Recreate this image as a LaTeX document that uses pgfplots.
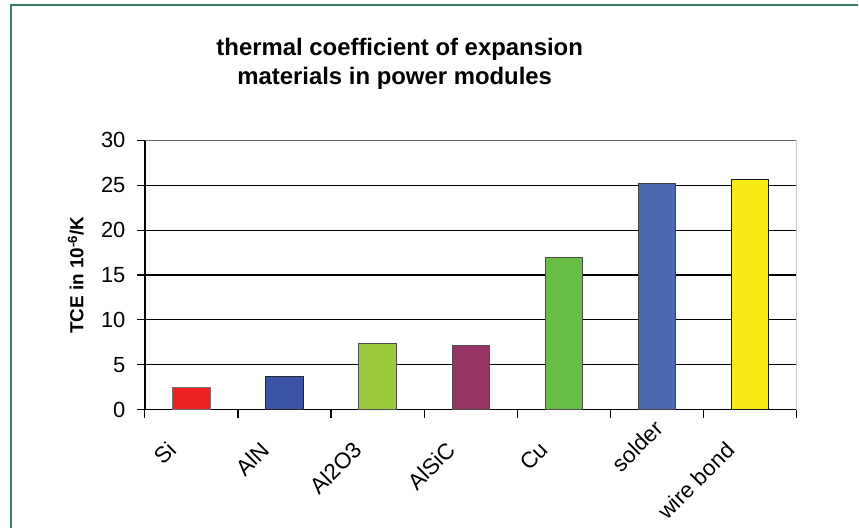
\documentclass[border=0pt]{standalone}
\usepackage{fontspec}
\setmainfont{Liberation Sans}
\usepackage{pgfplots}
\pgfplotsset{compat=1.18}

\definecolor{framegreen}{RGB}{56,128,98}
\definecolor{cSi}{RGB}{237,32,36}
\definecolor{cAlN}{RGB}{58,83,164}
\definecolor{cAlO}{RGB}{153,202,60}
\definecolor{cAlSiC}{RGB}{153,52,102}
\definecolor{cCu}{RGB}{106,189,69}
\definecolor{cSolder}{RGB}{75,105,176}
\definecolor{cWire}{RGB}{246,235,22}

\begin{document}
\begin{tikzpicture}
% page and frame
\fill[white] (0,0) rectangle (859bp,528bp);
\draw[framegreen, line width=1.3bp] (11bp,0) -- (11bp,523bp) -- (859bp,523bp);

% title
\node[anchor=base, font=\fontsize{24}{24}\bfseries\selectfont] at (400bp,472bp) {thermal coefficient of expansion};
\node[anchor=base, font=\fontsize{24}{24}\bfseries\selectfont] at (395bp,443bp) {materials in power modules};

\begin{axis}[
    at={(145bp,118bp)}, anchor=south west,
    width=652bp, height=269.5bp, scale only axis,
    axis lines=left,
    axis line style={-, black, line width=1.3bp},
    xmin=-0.5, xmax=6.5,
    ymin=0, ymax=30,
    ytick={0,5,...,30},
    ymajorgrids=true,
    grid style={black, line width=1.1bp},
    tick align=outside,
    major tick length=8bp,
    minor tick length=8bp,
    tick style={black, line width=1.1bp},
    xtick={0,...,6},
    % solder sits higher in the original, pushed along its baseline
    xticklabels={Si,AlN,Al2O3,AlSiC,Cu,solder\kern-31bp,wire bond},
    every major x tick/.append style={draw=none},
    minor xtick={-0.5,0.5,...,6.5},
    /pgf/number format/assume math mode=true,
    yticklabel style={font=\fontsize{22}{22}\selectfont, xshift=-8bp},
    xticklabel style={font=\fontsize{22.5}{22.5}\selectfont, xshift=-17bp, yshift=-26bp, rotate=45, anchor=east},
    ylabel={TCE in 10\textsuperscript{-6}/K},
    every axis y label/.style={at={(axis description cs:-0.106,0.5)}, rotate=90, anchor=center,
        font=\fontsize{19}{19}\bfseries\selectfont},
    ybar, bar width=0.4, bar shift=0pt,
]
\addplot[fill=cSi, draw=black!55, line width=1bp] coordinates {(0,2.5)};
\addplot[fill=cAlN, draw=black!85, line width=1bp] coordinates {(1,3.7)};
\addplot[fill=cAlO, draw=black!70, line width=1bp] coordinates {(2,7.4)};
\addplot[fill=cAlSiC, draw=black!70, line width=1bp] coordinates {(3,7.2)};
\addplot[fill=cCu, draw=black!70, line width=1bp] coordinates {(4,17.0)};
\addplot[fill=cSolder, draw=black!75, line width=1bp] coordinates {(5,25.2)};
\addplot[fill=cWire, draw=black!90, line width=1bp] coordinates {(6,25.6)};
\draw[black!60, line width=1.4bp] (rel axis cs:0,1) -- (rel axis cs:1,1) -- (rel axis cs:1,0);
\end{axis}
\end{tikzpicture}
\end{document}
